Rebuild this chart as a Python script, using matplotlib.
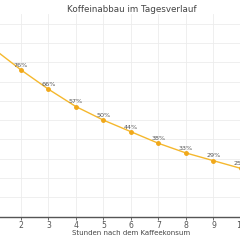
import matplotlib
matplotlib.use("Agg")
import matplotlib.pyplot as plt

hours = [0, 1, 2, 3, 4, 5, 6, 7, 8, 9, 10, 11, 12]
remaining = [100, 87, 76, 66, 57, 50, 44, 38, 33, 29, 25, 22, 19]
labels = [f"{v}%" for v in remaining]
title = "Koffeinabbau im Tagesverlauf"
xlabel = "Stunden nach dem Kaffeekonsum"

fig = plt.figure(figsize=(2.4, 2.4), dpi=100)
ax = fig.add_axes([-0.1417, 0.097, 1.375, 0.845])
ax.plot(hours, remaining, color="#f5b82e", lw=1.0, marker="o", ms=2.5,
        mfc="#f0a81a", mec="#f0a81a", zorder=3)
for h, v, lab in zip(hours, remaining, labels):
    ax.annotate(lab, (h, v), xytext=(0, 1.6), textcoords="offset points",
                ha="center", va="bottom", fontsize=4.6, color="#555555")
ax.set_xlim(0, 12)
ax.set_ylim(0, 105)
ax.set_xticks(range(0, 13))
ax.set_yticks(range(0, 101, 10))
ax.grid(True, color="#ececec", lw=0.6)
for s in ["top", "right", "left"]:
    ax.spines[s].set_visible(False)
ax.spines["bottom"].set_color("#555555")
ax.spines["bottom"].set_linewidth(1.0)
ax.tick_params(axis="x", labelsize=5.6, colors="#555555", length=2.5, width=0.6, pad=0.3)
ax.tick_params(axis="y", left=False, labelleft=False)
ax.set_xlabel(xlabel, fontsize=5.0, color="#444444", labelpad=0.3)
fig.text(132 / 240, 1 - 10 / 240, title, ha="center", va="center", fontsize=6.3, color="#444444")
fig.savefig("out.png", dpi=100)
